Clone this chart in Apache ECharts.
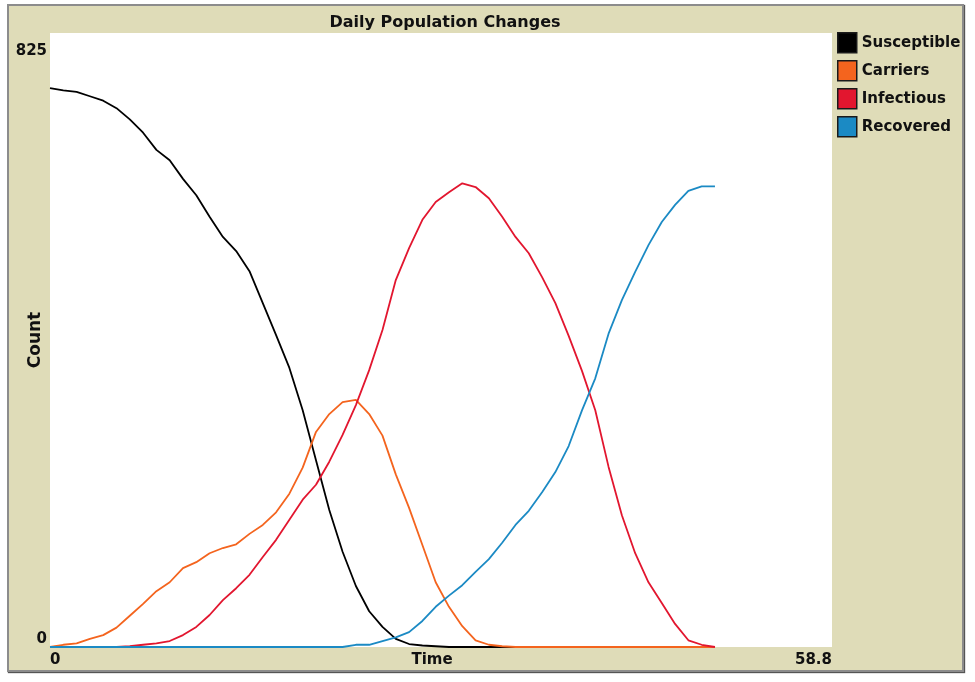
<!DOCTYPE html>
<html>
<head>
<meta charset="utf-8">
<style type="text/css">
    body {
        margin: 0;
        padding: 0;
        background: #ffffff;
    }

    .frame {
        position: absolute;
        left: 7px;
        top: 4px;
        width: 953px;
        height: 664px;
        background: #dfdcb8;
        border: 2px solid #8c8c8c;
        box-shadow: 1px 1px 1px #555;
    }

    #chart_main {
        position: absolute;
        left: 0;
        top: 0;
        width: 975px;
        height: 682px;
    }
</style>
<script src="https://cdn.jsdelivr.net/npm/echarts@6/dist/echarts.min.js"></script>
</head>
<body>
<div class="frame"></div>
<div id="chart_main"></div>
<script type="text/javascript">
// time steps (days)
var days = [0, 1, 2, 3, 4, 5, 6, 7, 8, 9, 10, 11, 12, 13, 14, 15, 16, 17, 18, 19, 20,
    21, 22, 23, 24, 25, 26, 27, 28, 29, 30, 31, 32, 33, 34, 35, 36, 37, 38, 39, 40,
    41, 42, 43, 44, 45, 46, 47, 48, 49, 50];

var susceptible = [751, 748, 746, 740, 734, 724, 709, 691, 668, 654, 629, 607, 578, 551, 532, 505,
    462, 419, 375, 318, 251, 184, 128, 82, 48, 27, 11, 4, 2, 1, 0, 0, 0, 0, 0, 0, 0, 0, 0, 0, 0,
    0, 0, 0, 0, 0, 0, 0, 0, 0, 0];

var carriers = [0, 3, 5, 11, 16, 26, 42, 58, 75, 87, 106, 114, 126, 133, 138, 152, 164, 181, 206,
    241, 289, 313, 329, 332, 313, 284, 232, 187, 137, 87, 54, 28, 9, 3, 1, 0, 0, 0, 0, 0, 0,
    0, 0, 0, 0, 0, 0, 0, 0, 0, 0];

var infectious = [0, 0, 0, 0, 0, 0, 1, 3, 5, 8, 16, 27, 43, 63, 79, 97, 121, 144, 171, 198, 218,
    249, 285, 325, 372, 426, 493, 536, 574, 598, 611, 623, 618, 603, 578, 551, 529, 497, 462,
    418, 371, 318, 242, 177, 126, 87, 59, 31, 9, 3, 0];

var recovered = [0, 0, 0, 0, 0, 0, 0, 0, 0, 0, 0, 0, 0, 0, 0, 0, 0, 0, 0, 0, 0, 0, 0, 3, 3, 8,
    13, 20, 35, 54, 69, 83, 101, 118, 140, 164, 183, 208, 235, 270, 318, 361, 421, 466, 504,
    540, 571, 594, 613, 619, 619];

var xTicks = [0, 58.8];
var yTicks = [0, 825];

var names = ['Susceptible', 'Carriers', 'Infectious', 'Recovered'];
var colors = ['#000000', '#f4641e', '#e2162f', '#1b8ac4'];
var values = [susceptible, carriers, infectious, recovered];

function pairs(ys) {
    return days.map(function (d, i) { return [d, ys[i]]; });
}

var font = "'DejaVu Sans', Verdana, sans-serif";

var option = {
    animation: false,
    backgroundColor: 'transparent',
    textStyle: { fontFamily: font },
    title: {
        text: 'Daily Population Changes',
        left: 440,
        textAlign: 'center',
        top: 10,
        textStyle: { fontSize: 16, fontWeight: 'bold', color: '#111', fontFamily: font }
    },
    legend: {
        orient: 'vertical',
        left: 832,
        top: 27,
        icon: 'rect',
        itemWidth: 19,
        itemHeight: 20,
        itemGap: 6.5,
        data: names,
        itemStyle: { borderColor: '#1a1a1a', borderWidth: 1.5 },
        textStyle: { fontSize: 15, fontWeight: 'bold', color: '#111', fontFamily: font }
    },
    grid: {
        left: 50,
        top: 33,
        width: 782,
        height: 614,
        outerBoundsMode: 'none',
        containLabel: false,
        show: true,
        backgroundColor: '#ffffff',
        borderWidth: 0
    },
    xAxis: {
        type: 'value',
        min: 0,
        max: 58.8,
        name: 'Time',
        nameLocation: 'middle',
        nameMoveOverlap: false,
        nameGap: 6,
        nameTextStyle: { fontSize: 15, fontWeight: 'bold', color: '#111', padding: [0, 18, 0, 0] },
        axisLine: { show: false },
        axisTick: { show: false },
        splitLine: { show: false },
        axisLabel: {
            customValues: xTicks,
            alignMinLabel: 'left',
            alignMaxLabel: 'right',
            margin: 6,
            fontSize: 15,
            fontWeight: 'bold',
            color: '#111',
            formatter: function (v) { return String(v); }
        }
    },
    yAxis: {
        type: 'value',
        min: 0,
        max: 825,
        name: 'Count',
        nameLocation: 'middle',
        nameMoveOverlap: false,
        nameGap: 6,
        nameTextStyle: { fontSize: 17, fontWeight: 'bold', color: '#111' },
        axisLine: { show: false },
        axisTick: { show: false },
        splitLine: { show: false },
        axisLabel: {
            customValues: yTicks,
            verticalAlignMinLabel: 'bottom',
            verticalAlignMaxLabel: 'top',
            padding: [11, 0, 0, 0],
            margin: 3,
            fontSize: 15,
            fontWeight: 'bold',
            color: '#111'
        }
    },
    series: names.map(function (n, i) {
        return {
            name: n,
            type: 'line',
            data: pairs(values[i]),
            showSymbol: false,
            symbol: 'none',
            color: colors[i],
            lineStyle: { width: 1.8, color: colors[i] }
        };
    })
};

var myChart = echarts.init(document.getElementById('chart_main'));
myChart.setOption(option);
</script>
</body>
</html>
